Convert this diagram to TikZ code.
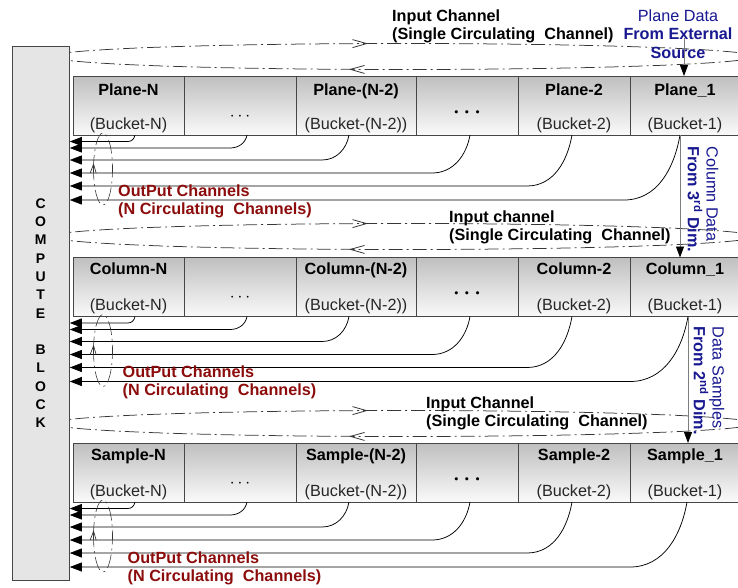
\documentclass[tikz,border=0pt]{standalone}
\usepackage{fontspec}
\setmainfont{Liberation Sans}
\usetikzlibrary{arrows.meta,decorations.markings}

\definecolor{edgegray}{RGB}{70,70,70}
\definecolor{loopgray}{RGB}{55,55,55}
\definecolor{blockfill}{RGB}{229,229,229}
\definecolor{chanred}{RGB}{140,12,12}
\definecolor{srcblue}{RGB}{24,24,145}
\definecolor{feedgray}{RGB}{125,125,125}

\tikzset{
  bucketbox/.style={draw=edgegray, line width=0.8pt, top color=black!25, bottom color=black!2,
    minimum height=59pt, inner sep=0pt, outer sep=0pt, anchor=north west},
  hdtext/.style={font=\fontsize{16.2}{18}\selectfont\bfseries, inner sep=0pt, anchor=base},
  bktext/.style={font=\fontsize{16.2}{18}\selectfont, text=black!85, inner sep=0pt, anchor=base},
  thindots/.style={font=\fontsize{18}{18}\selectfont, inner sep=0pt, anchor=base},
  bolddots/.style={font=\fontsize{20}{20}\selectfont\boldmath, inner sep=0pt, anchor=base},
  chanloop/.style={draw=loopgray, line width=0.75pt, dash pattern=on 14pt off 4pt on 2pt off 4pt},
  inmarks/.style={postaction=decorate, decoration={markings,
      mark=at position 317pt with {\arrow{Straight Barb[length=14pt,width=8pt,line width=0.8pt]}},
      mark=at position -298pt with {\arrow{Straight Barb[length=14pt,width=8pt,line width=0.8pt]}}}},
  upmark/.style={postaction=decorate, decoration={markings,
      mark=at position 6pt with {\arrow{Straight Barb[length=9pt,width=6pt,line width=0.7pt]}}}},
  outln/.style={draw=black, line width=0.75pt, -{Triangle[length=12pt,width=9pt]}},
  feed/.style={draw=feedgray, line width=0.9pt, -{Triangle[length=11pt,width=8pt,color=black]}},
  chanlbl/.style={font=\fontsize{16.2}{18}\selectfont\bfseries, inner sep=0pt, anchor=north west, align=left},
  outlbl/.style={chanlbl, text=chanred},
  srclbl/.style={font=\fontsize{16.2}{18.7}\selectfont, text=srcblue, inner sep=0pt, align=center}
}

\begin{document}
\begin{tikzpicture}[x=1pt,y=1pt]
\useasboundingbox (0,0) rectangle (738,-587);

% input channels: flat circulating loops, left ends hidden by the compute block
\draw[chanloop, inmarks] (52,-56.5) arc[start angle=180, end angle=-180, x radius=351, y radius=13];
\draw[chanloop, inmarks] (52,-236.5) arc[start angle=180, end angle=-180, x radius=351, y radius=13];
\draw[chanloop, inmarks] (52,-423.5) arc[start angle=180, end angle=-180, x radius=351, y radius=13];

% compute block
\node[draw=edgegray, fill=blockfill, line width=0.8pt, minimum width=57.5pt, minimum height=534.5pt,
      inner sep=0pt, anchor=north west, align=center, font=\fontsize{14}{18.3}\selectfont\bfseries]
  (cb) at (11.5,-45.5) {C\\O\\M\\P\\U\\T\\E\\[18.3pt]B\\L\\O\\C\\K};

% row of plane buckets
\node[bucketbox, minimum width=111pt] (c1-1) at (73,-76) {};
\node[bucketbox, minimum width=112pt] (c1-2) at (184,-76) {};
\node[bucketbox, minimum width=120pt] (c1-3) at (296,-76) {};
\node[bucketbox, minimum width=102pt] (c1-4) at (416,-76) {};
\node[bucketbox, minimum width=112pt] (c1-5) at (518,-76) {};
\node[bucketbox, minimum width=110pt] (c1-6) at (630,-76) {};
\node[hdtext] (h1-1) at (128.5,-95) {Plane-N};
\node[hdtext] (h1-3) at (356,-95) {Plane-(N-2)};
\node[hdtext] (h1-5) at (574,-95) {Plane-2};
\node[hdtext] (h1-6) at (685,-95) {Plane\textunderscore 1};
\node[bktext] (b1-1) at (128.5,-129) {(Bucket-N)};
\node[thindots] (b1-2) at (240,-120) {$\cdots$};
\node[bktext] (b1-3) at (356,-129) {(Bucket-(N-2))};
\node[bolddots] (b1-4) at (467,-117) {$\cdots$};
\node[bktext] (b1-5) at (574,-129) {(Bucket-2)};
\node[bktext] (b1-6) at (685,-129) {(Bucket-1)};

% row of column buckets
\node[bucketbox, minimum width=111pt] (c2-1) at (73,-257.5) {};
\node[bucketbox, minimum width=112pt] (c2-2) at (184,-257.5) {};
\node[bucketbox, minimum width=120pt] (c2-3) at (296,-257.5) {};
\node[bucketbox, minimum width=102pt] (c2-4) at (416,-257.5) {};
\node[bucketbox, minimum width=112pt] (c2-5) at (518,-257.5) {};
\node[bucketbox, minimum width=110pt] (c2-6) at (630,-257.5) {};
\node[hdtext] (h2-1) at (128.5,-274.5) {Column-N};
\node[hdtext] (h2-3) at (356,-274.5) {Column-(N-2)};
\node[hdtext] (h2-5) at (574,-274.5) {Column-2};
\node[hdtext] (h2-6) at (685,-274.5) {Column\textunderscore 1};
\node[bktext] (b2-1) at (128.5,-310.5) {(Bucket-N)};
\node[thindots] (b2-2) at (240,-301.5) {$\cdots$};
\node[bktext] (b2-3) at (356,-310.5) {(Bucket-(N-2))};
\node[bolddots] (b2-4) at (467,-298.5) {$\cdots$};
\node[bktext] (b2-5) at (574,-310.5) {(Bucket-2)};
\node[bktext] (b2-6) at (685,-310.5) {(Bucket-1)};

% row of sample buckets
\node[bucketbox, minimum width=111pt] (c3-1) at (73,-443) {};
\node[bucketbox, minimum width=112pt] (c3-2) at (184,-443) {};
\node[bucketbox, minimum width=120pt] (c3-3) at (296,-443) {};
\node[bucketbox, minimum width=102pt] (c3-4) at (416,-443) {};
\node[bucketbox, minimum width=112pt] (c3-5) at (518,-443) {};
\node[bucketbox, minimum width=110pt] (c3-6) at (630,-443) {};
\node[hdtext] (h3-1) at (128.5,-460) {Sample-N};
\node[hdtext] (h3-3) at (356,-460) {Sample-(N-2)};
\node[hdtext] (h3-5) at (574,-460) {Sample-2};
\node[hdtext] (h3-6) at (685,-460) {Sample\textunderscore 1};
\node[bktext] (b3-1) at (128.5,-496) {(Bucket-N)};
\node[thindots] (b3-2) at (240,-487) {$\cdots$};
\node[bktext] (b3-3) at (356,-496) {(Bucket-(N-2))};
\node[bolddots] (b3-4) at (467,-484) {$\cdots$};
\node[bktext] (b3-5) at (574,-496) {(Bucket-2)};
\node[bktext] (b3-6) at (685,-496) {(Bucket-1)};

% output channels, one per bucket, back to the compute block
\draw[outln] (c1-1.south -| 135,0) to[out=-100,in=0] (128,-141.5) -- (cb.east |- 0,-141.5);
\draw[outln] (c1-2.south -| 247,0) to[out=-100,in=0] (230,-148) -- (cb.east |- 0,-148);
\draw[outln] (c1-3.south -| 349,0) to[out=-100,in=0] (322,-160) -- (cb.east |- 0,-160);
\draw[outln] (c1-4.south -| 470,0) to[out=-100,in=0] (432,-173) -- (cb.east |- 0,-173);
\draw[outln] (c1-5.south -| 572,0) to[out=-100,in=0] (527,-186) -- (cb.east |- 0,-186);
\draw[outln] (c1-6.south -| 680,0) to[out=-100,in=0] (624,-200) -- (cb.east |- 0,-200);

\draw[outln] (c2-1.south -| 135,0) to[out=-100,in=0] (128,-323) -- (cb.east |- 0,-323);
\draw[outln] (c2-2.south -| 247,0) to[out=-100,in=0] (230,-329.5) -- (cb.east |- 0,-329.5);
\draw[outln] (c2-3.south -| 349,0) to[out=-100,in=0] (322,-341.5) -- (cb.east |- 0,-341.5);
\draw[outln] (c2-4.south -| 470,0) to[out=-100,in=0] (432,-354.5) -- (cb.east |- 0,-354.5);
\draw[outln] (c2-5.south -| 572,0) to[out=-100,in=0] (527,-367.5) -- (cb.east |- 0,-367.5);
\draw[outln] (c2-6.south -| 688,0) to[out=-100,in=0] (630,-381.5) -- (cb.east |- 0,-381.5);

\draw[outln] (c3-1.south -| 135,0) to[out=-100,in=0] (128,-508.5) -- (cb.east |- 0,-508.5);
\draw[outln] (c3-2.south -| 247,0) to[out=-100,in=0] (230,-515) -- (cb.east |- 0,-515);
\draw[outln] (c3-3.south -| 349,0) to[out=-100,in=0] (322,-527) -- (cb.east |- 0,-527);
\draw[outln] (c3-4.south -| 470,0) to[out=-100,in=0] (432,-540) -- (cb.east |- 0,-540);
\draw[outln] (c3-5.south -| 572,0) to[out=-100,in=0] (527,-553) -- (cb.east |- 0,-553);
\draw[outln] (c3-6.south -| 687,0) to[out=-100,in=0] (630,-567) -- (cb.east |- 0,-567);

% circulation markers around the output channels
\draw[chanloop, line width=0.6pt, upmark] (93.5,-169) arc[start angle=180, end angle=-180, x radius=9.5, y radius=36];
\draw[chanloop, line width=0.6pt, upmark] (93.5,-350.5) arc[start angle=180, end angle=-180, x radius=9.5, y radius=36];
\draw[chanloop, line width=0.6pt, upmark] (93.5,-536) arc[start angle=180, end angle=-180, x radius=9.5, y radius=36];

% channel labels
\node[chanlbl] (in1) at (392,-10) {Input Channel\\(Single Circulating\ \ Channel)};
\node[chanlbl] (in2) at (449,-211) {Input channel\\(Single Circulating\ \ Channel)};
\node[chanlbl] (in3) at (426,-397) {Input Channel\\(Single Circulating\ \ Channel)};
\node[outlbl] (out1) at (118,-185) {OutPut Channels\\(N Circulating\ \ Channels)};
\node[outlbl] (out2) at (122.5,-366) {OutPut Channels\\(N Circulating\ \ Channels)};
\node[outlbl] (out3) at (127.5,-552) {OutPut Channels\\(N Circulating\ \ Channels)};

% data feeds into the first bucket of each row
\node[srclbl, anchor=north] (src) at (678,-9.2) {Plane Data\\\textbf{From External}\\\textbf{Source}};
\coordinate (srcfoot) at (684,-38);
\draw[feed] (srcfoot) -- (c1-6.north -| srcfoot);
\draw[feed] (c1-6.south -| 680,0) -- (c2-6.north -| 680,0);
\draw[feed] (c2-6.south -| 688,0) -- (c3-6.north -| 688,0);
\node[srclbl, rotate=-90, anchor=north west, align=left] (coldim) at (718.5,-146.5)
  {Column Data\\\textbf{From 3\textsuperscript{rd} Dim.}};
\node[srclbl, rotate=-90, anchor=north west, align=left] (smpdim) at (724.5,-326.5)
  {Data Samples\\\textbf{From 2\textsuperscript{nd} Dim.}};
\end{tikzpicture}
\end{document}
